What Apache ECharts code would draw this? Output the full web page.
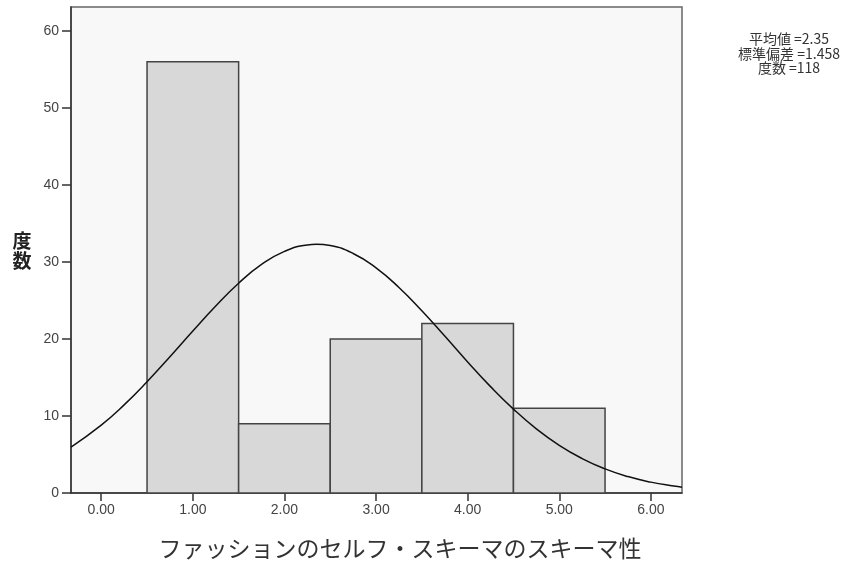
<!DOCTYPE html>
<html><head><meta charset="utf-8">
<script src="https://cdn.jsdelivr.net/npm/echarts@6/dist/echarts.min.js"></script>
<style>html,body{margin:0;padding:0;background:#fff}#c{width:850px;height:563px}</style>
</head><body><div id="c"></div>
<script>
// Histogram bins (centre of bin) and counts
const binCenters = [1, 2, 3, 4, 5];
const counts = [56, 9, 20, 22, 11];
// Fitted normal curve points
const curveX = [-0.33, 0, 0.25, 0.5, 0.75, 1, 1.25, 1.5, 1.75, 2, 2.25, 2.35, 2.5, 2.75, 3, 3.25, 3.5, 3.75, 4, 4.25, 4.5, 4.75, 5, 5.25, 5.5, 5.75, 6, 6.25, 6.34];
const curveY = [5.96, 8.81, 11.44, 14.44, 17.69, 21.03, 24.29, 27.24, 29.67, 31.37, 32.21, 32.29, 32.12, 31.10, 29.24, 26.69, 23.66, 20.37, 17.02, 13.81, 10.89, 8.33, 6.19, 4.47, 3.13, 2.13, 1.41, 0.90, 0.76];
const xTicks = [0, 1, 2, 3, 4, 5, 6];
const yTicks = [0, 10, 20, 30, 40, 50, 60];
const statsLines = ['平均値 =2.35', '標準偏差 =1.458', '度数 =118'];
const xTitle = 'ファッションのセルフ・スキーマのスキーマ性';
const yTitle = '度数';

const chart = echarts.init(document.getElementById('c'), null, {renderer: 'canvas'});
const labelFont = {color: '#444', fontSize: 14, fontFamily: 'Liberation Sans, Arial, sans-serif'};
chart.setOption({
  animation: false,
  grid: {left: 71, top: 7, right: 168, bottom: 70, show: true, backgroundColor: '#f8f8f8', borderColor: '#666', borderWidth: 1.5},
  xAxis: {
    type: 'value', min: -0.33, max: 6.34,
    axisLine: {show: true, onZero: false, lineStyle: {color: '#333', width: 1.5}},
    axisTick: {show: true, length: 8, customValues: xTicks, lineStyle: {color: '#333', width: 1.5}},
    axisLabel: Object.assign({customValues: xTicks, margin: 10, formatter: v => v.toFixed(2)}, labelFont),
    splitLine: {show: false}
  },
  yAxis: {
    type: 'value', min: 0, max: 63.1,
    axisLine: {show: true, onZero: false, lineStyle: {color: '#333', width: 1.5}},
    axisTick: {show: true, length: 9, customValues: yTicks, lineStyle: {color: '#333', width: 1.5}},
    axisLabel: Object.assign({customValues: yTicks, margin: 12}, labelFont),
    splitLine: {show: false}
  },
  graphic: [
    {type: 'text', x: 22, y: 251, style: {text: yTitle.split('').join('\n'), align: 'center', verticalAlign: 'middle', font: 'bold 19px "Noto Sans CJK JP"', fill: '#222', lineHeight: 20}},
    {type: 'text', x: 789, y: 53.5, style: {text: statsLines.join('\n'), align: 'center', verticalAlign: 'middle', font: '14px "Noto Sans CJK JP", sans-serif', fill: '#333', lineHeight: 14.5}},
    {type: 'text', x: 400, y: 548, style: {text: xTitle, align: 'center', verticalAlign: 'middle', font: '23px "Noto Sans CJK JP"', fill: '#333'}}
  ],
  series: [
    {
      type: 'custom',
      data: binCenters.map((c, i) => [c, counts[i]]),
      renderItem: function (params, api) {
        const c = api.value(0), h = api.value(1);
        const p1 = api.coord([c - 0.5, h]);
        const p2 = api.coord([c + 0.5, 0]);
        return {type: 'rect', shape: {x: p1[0], y: p1[1], width: p2[0] - p1[0], height: p2[1] - p1[1]},
          style: {fill: '#d8d8d8', stroke: '#444', lineWidth: 1.5}};
      },
      z: 2
    },
    {
      type: 'line', data: curveX.map((x, i) => [x, curveY[i]]), smooth: true, showSymbol: false,
      lineStyle: {color: '#111', width: 1.5}, z: 3
    }
  ]
});
</script></body></html>
